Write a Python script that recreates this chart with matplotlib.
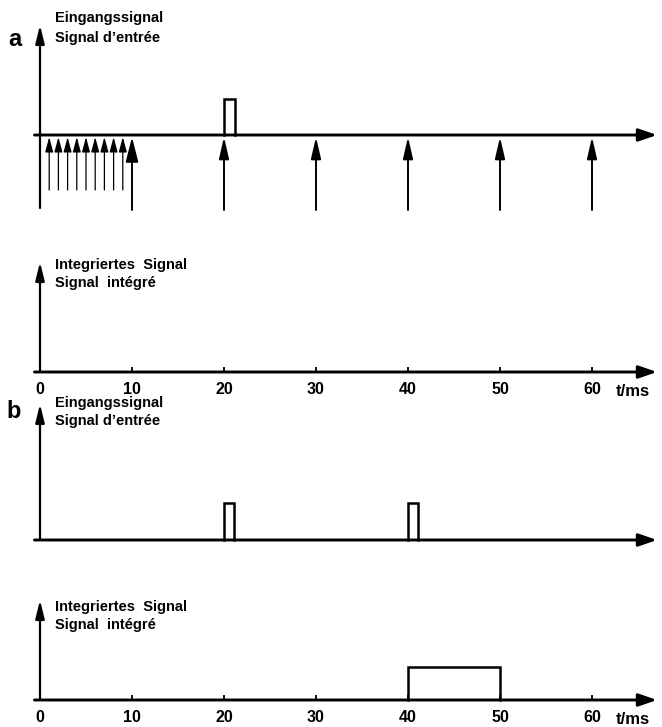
import matplotlib.pyplot as plt

plt.rcParams['font.family'] = ['Liberation Sans', 'DejaVu Sans']

# Zeitachse in ms
tick_times = [0, 10, 20, 30, 40, 50, 60]
tick_labels = ['0', '10', '20', '30', '40', '50', '60']

# Reize (Pfeile) in Teil a
small_stimuli = [1, 2, 3, 4, 5, 6, 7, 8, 9]
large_stimuli = [10, 20, 30, 40, 50, 60]

# Rechteckimpulse: Beginn / Ende in ms, Hoehe 1
pulse_a_start = [20]
pulse_a_end = [21.2]
pulse_b_start = [20, 40]
pulse_b_end = [21.1, 41.1]
integ_b_start = [40]
integ_b_end = [50]
pulse_height = 1

W, H = 662, 727
T0_PX, PX_PER_MS = 40, 9.2

fig = plt.figure(figsize=(W / 100, H / 100), dpi=100)


def panel(top_px, bot_px, base_px, unit_px):
    ax = fig.add_axes([0, 1 - bot_px / H, 1, (bot_px - top_px) / H])
    ax.set_xlim(-T0_PX / PX_PER_MS, (W - T0_PX) / PX_PER_MS)
    ax.set_ylim(-(bot_px - base_px) / unit_px, (base_px - top_px) / unit_px)
    ax.axis('off')
    # pixel -> Datenkoordinate (y)
    py = lambda p: (base_px - p) / unit_px
    return ax, py


def arrow(ax, x0, y0, x1, y1, lw, hl, hw):
    ax.annotate('', xy=(x1, y1), xytext=(x0, y0),
                arrowprops=dict(arrowstyle=f'-|>,head_length={hl},head_width={hw}',
                                lw=lw, color='black', shrinkA=0, shrinkB=0,
                                mutation_scale=10))


def axes_lines(ax, py, y_top_px, y_bot_px=None):
    yb = py(y_bot_px) if y_bot_px is not None else 0
    arrow(ax, 0, yb, 0, py(y_top_px), 1.6, 1.1, 0.27)
    arrow(ax, -0.6, 0, (657 - T0_PX) / PX_PER_MS, 0, 2.1, 1.1, 0.38)


def pulses(ax, starts, ends, h):
    for s, e in zip(starts, ends):
        ax.plot([s, s, e, e], [0, h, h, 0], color='black', lw=1.8,
                solid_joinstyle='miter')


def labels(ax, py, l1_px, l2_px, texts):
    x = (55 - T0_PX) / PX_PER_MS
    ax.text(x, py(l1_px), texts[0], fontsize=10.5, fontweight='bold',
            ha='left', va='center')
    ax.text(x, py(l2_px), texts[1], fontsize=10.5, fontweight='bold',
            ha='left', va='center')


def time_axis(ax, py, base_px, label_px):
    # kleine Striche nach oben, ca. 5 px
    ax.vlines(tick_times, 0, py(base_px - 5), color='black', lw=1.3)
    for t, s in zip(tick_times, tick_labels):
        ax.text(t, py(label_px), s, fontsize=11.5, fontweight='bold',
                ha='center', va='center')
    ax.text((633 - T0_PX) / PX_PER_MS, py(label_px + 1), 't/ms', fontsize=12,
            fontweight='bold', ha='center', va='center')


input_txt = ['Eingangssignal', 'Signal d\u2019entrée']
integ_txt = ['Integriertes  Signal', 'Signal  intégré']

# --- a: Eingangssignal ---
ax, py = panel(0, 240, 135, 36)
axes_lines(ax, py, 25, 208)
pulses(ax, pulse_a_start, pulse_a_end, pulse_height)
for t in small_stimuli:
    arrow(ax, t, py(190), t, py(137), 0.9, 0.9, 0.24)
for t in large_stimuli:
    big = t == 10
    arrow(ax, t, py(210), t, py(137), 1.4, 1.5 if big else 1.3, 0.38 if big else 0.3)
labels(ax, py, 18, 38, input_txt)
ax.text((15 - T0_PX) / PX_PER_MS, py(40), 'a', fontsize=17, fontweight='bold',
        ha='center', va='center')

# --- a: integriertes Signal ---
ax, py = panel(240, 400, 372, 33)
axes_lines(ax, py, 262)
time_axis(ax, py, 372, 390)
labels(ax, py, 265, 283, integ_txt)

# --- b: Eingangssignal ---
ax, py = panel(400, 560, 540, 37)
axes_lines(ax, py, 404)
pulses(ax, pulse_b_start, pulse_b_end, pulse_height)
labels(ax, py, 403, 421, input_txt)
ax.text((14 - T0_PX) / PX_PER_MS, py(412), 'b', fontsize=17, fontweight='bold',
        ha='center', va='center')

# --- b: integriertes Signal ---
ax, py = panel(560, 727, 700, 33)
axes_lines(ax, py, 600)
pulses(ax, integ_b_start, integ_b_end, pulse_height)
time_axis(ax, py, 700, 718)
labels(ax, py, 607, 625, integ_txt)

fig.savefig('out.png', dpi=100)
